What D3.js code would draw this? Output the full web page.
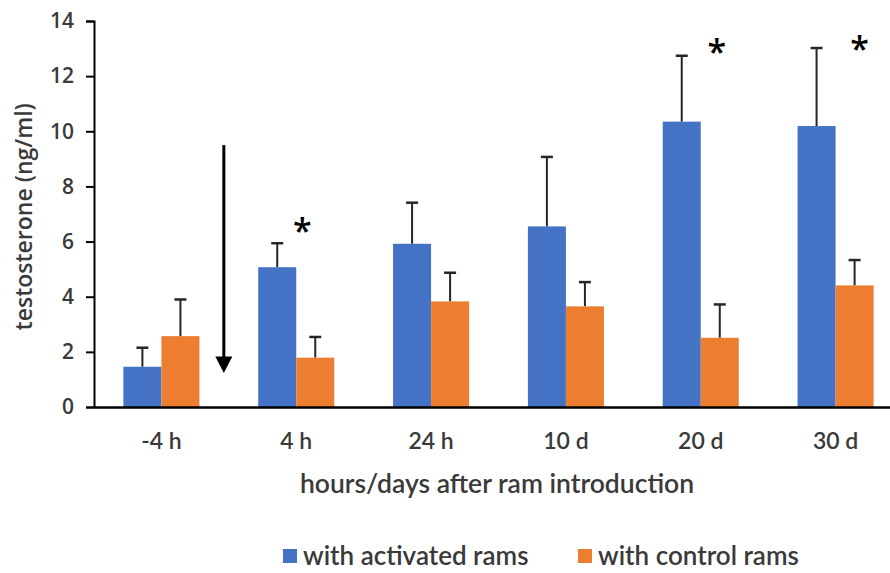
<!DOCTYPE html>
<html>
<head>
<meta charset="utf-8">
<script src="https://cdn.jsdelivr.net/npm/d3@7"></script>
<style>
  body { margin: 0; background: #fff; }
  svg text { fill: #3a3a3a; }
</style>
</head>
<body>
<svg id="chart"></svg>
<script>
// data
var categories = ["-4 h", "4 h", "24 h", "10 d", "20 d", "30 d"];
var seriesNames = ["with activated rams", "with control rams"];
var activated = [1.46, 5.07, 5.92, 6.55, 10.35, 10.19];
var activatedErr = [0.69, 0.87, 1.49, 2.52, 2.39, 2.83];
var control = [2.57, 1.79, 3.83, 3.65, 2.51, 4.41];
var controlErr = [1.33, 0.75, 1.04, 0.88, 1.21, 0.92];
var yTicks = [0, 2, 4, 6, 8, 10, 12, 14];
var starCats = ["4 h", "20 d", "30 d"];
var starValues = [6.67, 13.17, 13.28];

var width = 890, height = 573;
var colors = ["#4472C4", "#ED7D31"];
var sansY = "'Open Sans', sans-serif";
var sansX = "Lato, 'Open Sans', sans-serif";

var svg = d3.select("#chart")
    .attr("width", width)
    .attr("height", height);

var x = d3.scaleBand()
    .domain(categories)
    .range([94, 903])
    .paddingInner(0.436)
    .paddingOuter(0.218);

var xs = d3.scaleBand()
    .domain([0, 1])
    .range([0, x.bandwidth()]);

var y = d3.scaleLinear()
    .domain([0, 14])
    .range([407, 21]);

// y axis
var yAxis = svg.append("g")
    .attr("transform", "translate(94,0)")
    .call(d3.axisLeft(y).tickValues(yTicks).tickSize(8).tickPadding(12));
yAxis.attr("font-size", 21).attr("font-family", sansY);
yAxis.select(".domain").attr("stroke", "#000").attr("stroke-width", 2);
yAxis.selectAll(".tick line").attr("stroke", "#000").attr("stroke-width", 2);
yAxis.selectAll(".tick text")
    .attr("font-size", 21)
    .attr("font-weight", 600)
    .attr("fill", "#3a3a3a");

svg.append("text")
    .attr("transform", "translate(32," + y(6.9) + ")rotate(-90)")
    .attr("text-anchor", "middle")
    .attr("font-family", sansY)
    .attr("font-size", 23)
    .attr("font-weight", 600)
    .text("testosterone (ng/ml)");

// bars
var series = [activated, control];
var errs = [activatedErr, controlErr];

series.forEach(function(vals, s) {
    var g = svg.append("g");
    var cx = function(d, i) { return x(categories[i]) + xs(s) + xs.bandwidth() / 2; };
    // error bars (upper only)
    g.selectAll("line.err")
        .data(vals)
        .enter().append("line")
        .attr("x1", cx)
        .attr("x2", cx)
        .attr("y1", function(d) { return y(d); })
        .attr("y2", function(d, i) { return y(d + errs[s][i]); })
        .attr("stroke", "#262626")
        .attr("stroke-width", 2);
    g.selectAll("line.cap")
        .data(vals)
        .enter().append("line")
        .attr("x1", function(d, i) { return cx(d, i) - 6; })
        .attr("x2", function(d, i) { return cx(d, i) + 6; })
        .attr("y1", function(d, i) { return y(d + errs[s][i]); })
        .attr("y2", function(d, i) { return y(d + errs[s][i]); })
        .attr("stroke", "#262626")
        .attr("stroke-width", 2.5);
    g.selectAll("rect")
        .data(vals)
        .enter().append("rect")
        .attr("x", function(d, i) { return x(categories[i]) + xs(s); })
        .attr("y", function(d) { return y(d); })
        .attr("width", xs.bandwidth())
        .attr("height", function(d) { return y(0) - y(d); })
        .attr("fill", colors[s]);
});

// x axis
var xAxis = svg.append("g")
    .attr("transform", "translate(0," + y(0) + ")")
    .call(d3.axisBottom(x).tickSize(0).tickPadding(26));
xAxis.attr("font-size", 23).attr("font-family", sansX);
xAxis.select(".domain").attr("stroke", "#000").attr("stroke-width", 2.5);
xAxis.selectAll(".tick text")
    .attr("font-size", 23)
    .attr("font-weight", 600)
    .attr("fill", "#3a3a3a");

svg.append("text")
    .attr("x", 497)
    .attr("y", 493)
    .attr("text-anchor", "middle")
    .attr("font-family", sansX)
    .attr("font-size", 26.5)
    .attr("font-weight", 600)
    .text("hours/days after ram introduction");

// significance stars
var starDx = [6, 16, 24];
svg.selectAll("text.star")
    .data(starCats)
    .enter().append("text")
    .attr("class", "star")
    .attr("x", function(d, i) { return x(d) + x.bandwidth() / 2 + starDx[i]; })
    .attr("y", function(d, i) { return y(starValues[i]); })
    .attr("dy", "0.6em")
    .attr("text-anchor", "middle")
    .attr("font-family", sansY)
    .attr("font-size", 34)
    .attr("font-weight", 600)
    .style("fill", "#000")
    .text("*");

// arrow marking ram introduction
var arrowX = x.range()[0] + x.step() - 5;
svg.append("line")
    .attr("x1", arrowX).attr("x2", arrowX)
    .attr("y1", y(9.5)).attr("y2", y(1.75))
    .attr("stroke", "#000").attr("stroke-width", 3);
svg.append("path")
    .attr("d", "M" + (arrowX - 8.5) + "," + y(1.83) + "L" + (arrowX + 8.5) + "," + y(1.83) + "L" + arrowX + "," + y(1.23) + "Z")
    .attr("fill", "#000");

// legend
var legend = svg.append("g")
    .attr("transform", "translate(283,556)");
var legX = [0, 295];
seriesNames.forEach(function(name, i) {
    legend.append("rect")
        .attr("x", legX[i]).attr("y", -7)
        .attr("width", 14).attr("height", 14)
        .attr("fill", colors[i]);
    legend.append("text")
        .attr("x", legX[i] + 20).attr("y", 0)
        .attr("dy", "0.35em")
        .attr("font-family", sansX)
        .attr("font-size", 26)
        .attr("font-weight", 600)
        .text(name);
});
</script>
</body>
</html>
